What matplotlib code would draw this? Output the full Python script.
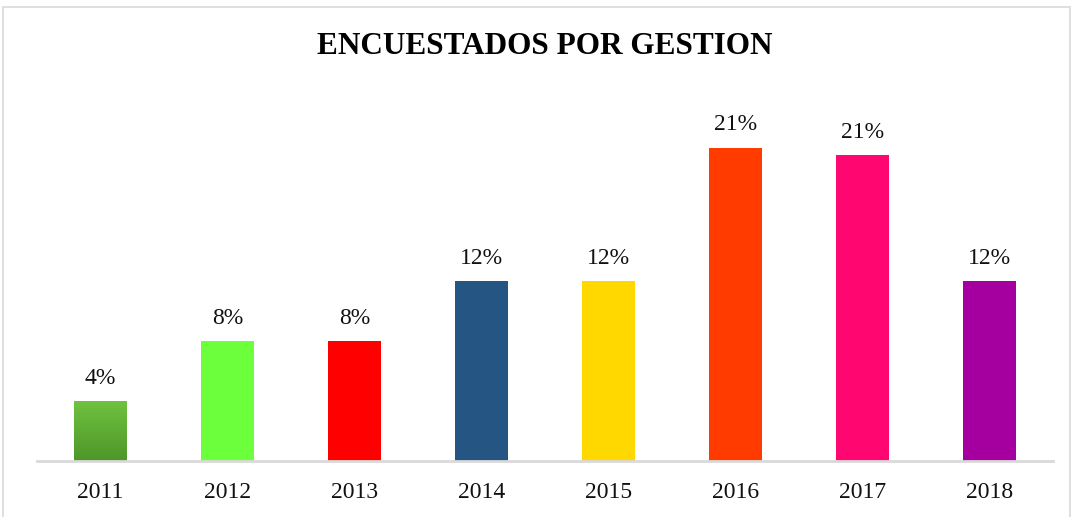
import numpy as np
import matplotlib.pyplot as plt
from matplotlib.patches import Rectangle
from matplotlib.colors import LinearSegmentedColormap

years = ['2011', '2012', '2013', '2014', '2015', '2016', '2017', '2018']
valores = [4.0, 8.0, 8.0, 12.0, 12.0, 20.9, 20.4, 12.0]
etiquetas = ['4%', '8%', '8%', '12%', '12%', '21%', '21%', '12%']
colores = ['#5fad35', '#6cff3c', '#ff0000', '#245583', '#ffd800',
           '#ff3b00', '#ff0671', '#a5009f']

plt.rcParams['font.family'] = ['Liberation Serif', 'DejaVu Serif']

W, H = 1073, 517
fig = plt.figure(figsize=(W / 100, H / 100), dpi=100)

# marco gris del grafico
fig.patches.append(Rectangle((3 / W, -0.01), (W - 6) / W, 1 - 7 / H + 0.01,
                             transform=fig.transFigure, fill=False,
                             edgecolor='#d9d9d9', linewidth=1.2))

ax = fig.add_axes([37 / W, (H - 461) / H, (1053 - 37) / W, (461 - 100) / H])
x = np.arange(len(years))
bars = ax.bar(x, valores, width=0.41, color=colores, zorder=2)

# degradado en la barra de 2011
b0 = bars[0]
grad = np.linspace(0, 1, 100).reshape(-1, 1)
cmap = LinearSegmentedColormap.from_list('g', ['#4e962a', '#6fc23f'])
img = ax.imshow(grad, cmap=cmap, aspect='auto', origin='lower', zorder=3,
                extent=[b0.get_x(), b0.get_x() + b0.get_width(), 0, b0.get_height()])
img.set_clip_path(b0)

for b, t in zip(bars, etiquetas):
    ax.annotate(t, (b.get_x() + b.get_width() / 2, b.get_height()),
                xytext=(0, 9), textcoords='offset points',
                ha='center', va='bottom', fontsize=17, color='#111111')

ax.set_xlim(-0.5, len(years) - 0.5)
ax.set_ylim(0, 361 / 15)
ax.set_xticks(x)
ax.set_xticklabels(years, fontsize=17, color='#111111')
ax.tick_params(axis='x', length=0, pad=15)
ax.set_yticks([])
for s in ['top', 'right', 'left']:
    ax.spines[s].set_visible(False)
ax.spines['bottom'].set_color('#d9d9d9')
ax.spines['bottom'].set_linewidth(2)
ax.spines['bottom'].set_zorder(4)

fig.text(545 / W, 1 - 47 / H, 'ENCUESTADOS POR GESTION', ha='center', va='center',
         fontsize=22.5, fontweight='bold')

fig.savefig('out.png', dpi=100)
